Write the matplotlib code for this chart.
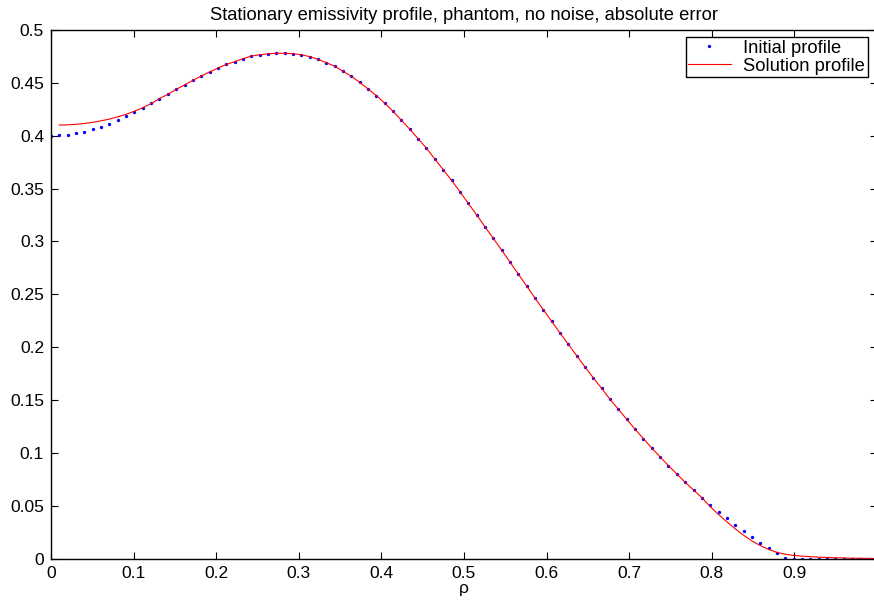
import numpy as np
import matplotlib
matplotlib.use("Agg")
import matplotlib.pyplot as plt

plt.rcParams['font.family'] = ['Liberation Sans', 'DejaVu Sans']

# Data
rho_initial = np.linspace(0.0, 0.99, 99)
initial_profile = [
    0.4000, 0.4003, 0.4010, 0.4023, 0.4038, 0.4060, 0.4085, 0.4114, 0.4149, 0.4184,
    0.4222, 0.4262, 0.4307, 0.4351, 0.4392, 0.4439, 0.4480, 0.4524, 0.4565, 0.4603,
    0.4640, 0.4675, 0.4700, 0.4728, 0.4753, 0.4766, 0.4775, 0.4780, 0.4780, 0.4776,
    0.4766, 0.4748, 0.4723, 0.4691, 0.4657, 0.4609, 0.4562, 0.4505, 0.4442, 0.4379,
    0.4307, 0.4231, 0.4146, 0.4061, 0.3972, 0.3881, 0.3780, 0.3679, 0.3579, 0.3471,
    0.3361, 0.3253, 0.3140, 0.3030, 0.2919, 0.2806, 0.2692, 0.2579, 0.2465, 0.2355,
    0.2245, 0.2134, 0.2028, 0.1920, 0.1813, 0.1709, 0.1610, 0.1507, 0.1413, 0.1318,
    0.1224, 0.1135, 0.1047, 0.0962, 0.0880, 0.0801, 0.0723, 0.0650, 0.0577, 0.0508,
    0.0445, 0.0382, 0.0319, 0.0262, 0.0205, 0.0148, 0.0098, 0.0051, 0.0008, 0.0000,
    0.0000, 0.0000, 0.0000, 0.0000, 0.0000, 0.0000, 0.0000, 0.0000, 0.0000,
]

rho_solution = np.linspace(0.99 / 98, 0.99 / 98 * 99, 99)
solution_profile = [
    0.4101, 0.4103, 0.4108, 0.4116, 0.4127, 0.4141, 0.4158, 0.4179, 0.4203,
    0.4232, 0.4265, 0.4304, 0.4351, 0.4392, 0.4439, 0.4480, 0.4524, 0.4565, 0.4603,
    0.4640, 0.4675, 0.4700, 0.4728, 0.4753, 0.4766, 0.4775, 0.4780, 0.4780, 0.4776,
    0.4766, 0.4748, 0.4723, 0.4691, 0.4657, 0.4609, 0.4562, 0.4505, 0.4442, 0.4379,
    0.4307, 0.4231, 0.4146, 0.4061, 0.3972, 0.3881, 0.3780, 0.3679, 0.3579, 0.3471,
    0.3361, 0.3253, 0.3140, 0.3030, 0.2919, 0.2806, 0.2692, 0.2579, 0.2465, 0.2355,
    0.2245, 0.2134, 0.2028, 0.1920, 0.1813, 0.1709, 0.1610, 0.1507, 0.1413, 0.1318,
    0.1224, 0.1135, 0.1047, 0.0962, 0.0880, 0.0801, 0.0723, 0.0650, 0.0577, 0.0492,
    0.0418, 0.0348, 0.0283, 0.0222, 0.0168, 0.0124, 0.0088, 0.0060, 0.0042, 0.0031,
    0.0024, 0.0019, 0.0015, 0.0012, 0.0009, 0.0007, 0.0005, 0.0004, 0.0003, 0.0002,
]

x_ticks = [0, 0.1, 0.2, 0.3, 0.4, 0.5, 0.6, 0.7, 0.8, 0.9]
x_tick_labels = ['0', '0.1', '0.2', '0.3', '0.4', '0.5', '0.6', '0.7', '0.8', '0.9']
y_ticks = [0, 0.05, 0.1, 0.15, 0.2, 0.25, 0.3, 0.35, 0.4, 0.45, 0.5]
y_tick_labels = ['0', '0.05', '0.1', '0.15', '0.2', '0.25', '0.3', '0.35', '0.4', '0.45', '0.5']

W, H = 874, 605
fig = plt.figure(figsize=(W / 100, H / 100), dpi=100)
left, right, top, bottom = 51, 877, 30, 558.7
ax = fig.add_axes([left / W, (H - bottom) / H, (right - left) / W, (bottom - top) / H])

ax.plot(rho_initial, initial_profile, linestyle='none', marker='o', markersize=2.4,
        markeredgewidth=0, color='#0000ff', label='Initial profile')
ax.plot(rho_solution, solution_profile, color='#ff0000', linewidth=0.8, label='Solution profile')

ax.set_xlim(0, 1.0)
ax.set_ylim(0, 0.5)
ax.set_xticks(x_ticks)
ax.set_xticklabels(x_tick_labels)
ax.set_yticks(y_ticks)
ax.set_yticklabels(y_tick_labels)
ax.tick_params(direction='in', length=5, width=0.8, labelsize=12.5, top=True, right=True,
               colors='black', pad=5)
for s in ax.spines.values():
    s.set_linewidth(1.0)
    s.set_color('black')

ax.set_title('Stationary emissivity profile, phantom, no noise, absolute error',
             fontsize=13.2, pad=7)
ax.set_xlabel('ρ', fontsize=12.5, labelpad=0)

leg = ax.legend(loc='upper right', bbox_to_anchor=(868 / W, 1 - 37 / H),
                bbox_transform=fig.transFigure, fontsize=13.2, frameon=True, fancybox=False,
                edgecolor='black', framealpha=1, borderpad=0.15, labelspacing=0.05,
                handlelength=2.3, handletextpad=0.7, borderaxespad=0, markerscale=1.0)
leg.get_frame().set_linewidth(1.0)

fig.savefig('out.png', dpi=100)
